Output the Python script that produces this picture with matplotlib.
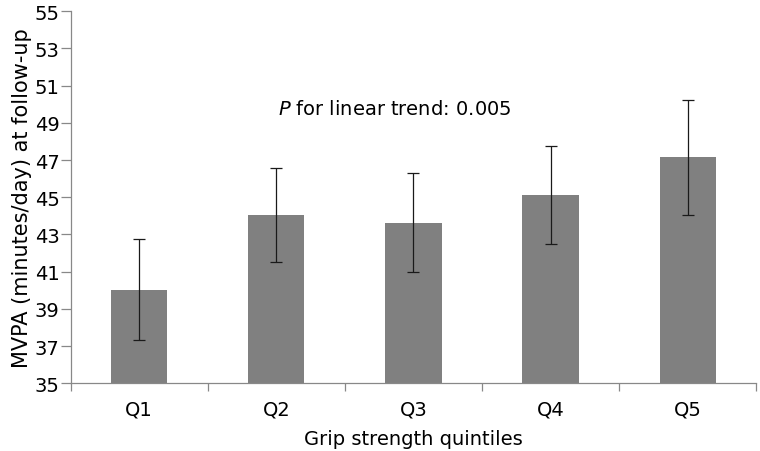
import matplotlib
matplotlib.use("Agg")
import matplotlib.pyplot as plt
import numpy as np

# Data
quintiles = ["Q1", "Q2", "Q3", "Q4", "Q5"]
mvpa_mean = [40.03, 44.06, 43.62, 45.12, 47.17]
ci_upper = [42.76, 46.58, 46.29, 47.74, 50.25]
ci_lower = [37.31, 41.52, 40.98, 42.49, 44.05]
y_ticks = [35, 37, 39, 41, 43, 45, 47, 49, 51, 53, 55]

plt.rcParams["font.family"] = ["DejaVu Sans"]
fs = 14

fig = plt.figure(figsize=(7.6, 4.52), dpi=100)
ax = fig.add_axes([0.093, 0.150, 0.902, 0.823])

x = np.arange(len(quintiles))
mean = np.array(mvpa_mean)
err = [mean - np.array(ci_lower), np.array(ci_upper) - mean]

# Bars with error bars
ax.bar(x, mean, width=0.41, color="#808080", bottom=0)
ax.errorbar(x, mean, yerr=err, fmt="none", ecolor="#1a1a1a",
            elinewidth=0.9, capsize=4, capthick=0.9)

# Axis limits and ticks
ax.set_ylim(35, 55)
ax.set_xlim(-0.5, len(quintiles) - 0.5)
ax.set_yticks(y_ticks)
ax.set_xticks(x)
ax.set_xticklabels(quintiles)
ax.set_xticks(np.arange(-0.5, len(quintiles)), minor=True)
ax.tick_params(axis="x", which="major", length=0, pad=12, labelsize=fs)
ax.tick_params(axis="x", which="minor", length=6, color="#888888", width=0.9)
ax.tick_params(axis="y", length=7, color="#888888", width=0.9, labelsize=fs, pad=1)

# Only left and bottom spines
for side in ["top", "right"]:
    ax.spines[side].set_visible(False)
for side in ["left", "bottom"]:
    ax.spines[side].set_color("#888888")
    ax.spines[side].set_linewidth(0.9)

# Labels
ax.set_ylabel("MVPA (minutes/day) at follow-up", fontsize=15, labelpad=2)
ax.set_xlabel("Grip strength quintiles", fontsize=fs, labelpad=7)

# Trend annotation
ax.text(1.01, 49.75, r"$\it{P}$ for linear trend: 0.005", fontsize=fs,
        ha="left", va="center")

fig.savefig("out.png", dpi=100)
